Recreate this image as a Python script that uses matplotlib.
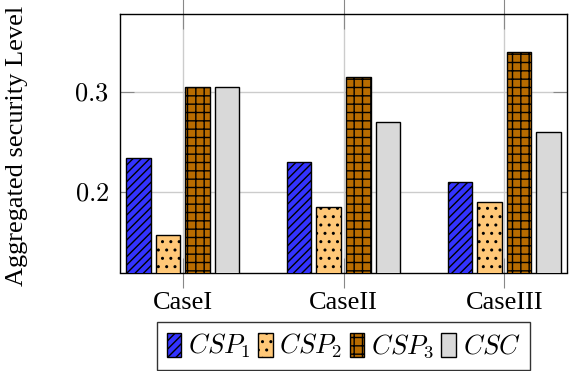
import numpy as np
import matplotlib
matplotlib.use("Agg")
import matplotlib.pyplot as plt

plt.rcParams['font.family'] = ['Liberation Serif', 'DejaVu Serif']
plt.rcParams['mathtext.fontset'] = 'cm'
plt.rcParams['hatch.linewidth'] = 1.0

# данные
cases = ['CaseI', 'CaseII', 'CaseIII']
csp1 = [0.234, 0.230, 0.210]
csp2 = [0.157, 0.185, 0.190]
csp3 = [0.305, 0.315, 0.340]
csc = [0.305, 0.270, 0.260]

series = [csp1, csp2, csp3, csc]
labels = [r'$CSP_1$', r'$CSP_2$', r'$CSP_3$', r'$CSC$']
colors = ['#3333ff', '#ffc878', '#b86c00', '#d9d9d9']
hatches = ['////', '..', '++', None]

fig = plt.figure(figsize=(5.74, 3.71), dpi=100)
ax = fig.add_axes([120 / 574, 1 - 272.5 / 371, 447 / 574, 258.5 / 371])

x = np.arange(len(cases))
step = 0.184
width = 0.152
for i, (vals, lab, col, h) in enumerate(zip(series, labels, colors, hatches)):
    ax.bar(x + (i - 1.5) * step, vals, width, color=col, edgecolor='black',
           linewidth=1.0, hatch=h, label=lab, zorder=3)

ax.set_xlim(-0.39, 2.39)
ax.set_ylim(0.12, 0.378)
ax.set_xticks(x)
ax.set_xticklabels(cases, fontsize=19)
ax.set_yticks([0.2, 0.3])
ax.set_yticklabels(['$0.2$', '$0.3$'], fontsize=19)
ax.set_ylabel('Aggregated security Level', fontsize=19)
ax.yaxis.set_label_coords(-0.205, 0.49)

ax.grid(True, color='#cccccc', linewidth=1.0, zorder=0)
ax.tick_params(axis='y', direction='in', length=10, color='#888888', left=True, right=True, pad=8)
ax.tick_params(axis='x', direction='inout', length=22, color='#888888', top=True, bottom=True, pad=3)
for s in ax.spines.values():
    s.set_linewidth(1.0)

leg = ax.legend(loc='upper center', bbox_to_anchor=(0.5, -0.19), ncol=4, fontsize=19.2,
                frameon=True, fancybox=False, edgecolor='black', handlelength=0.55,
                handleheight=1.0, handletextpad=0.25, columnspacing=0.28, borderpad=0.38,
                borderaxespad=0)
leg.get_frame().set_linewidth(1.0)

fig.savefig('out.png', dpi=100)
